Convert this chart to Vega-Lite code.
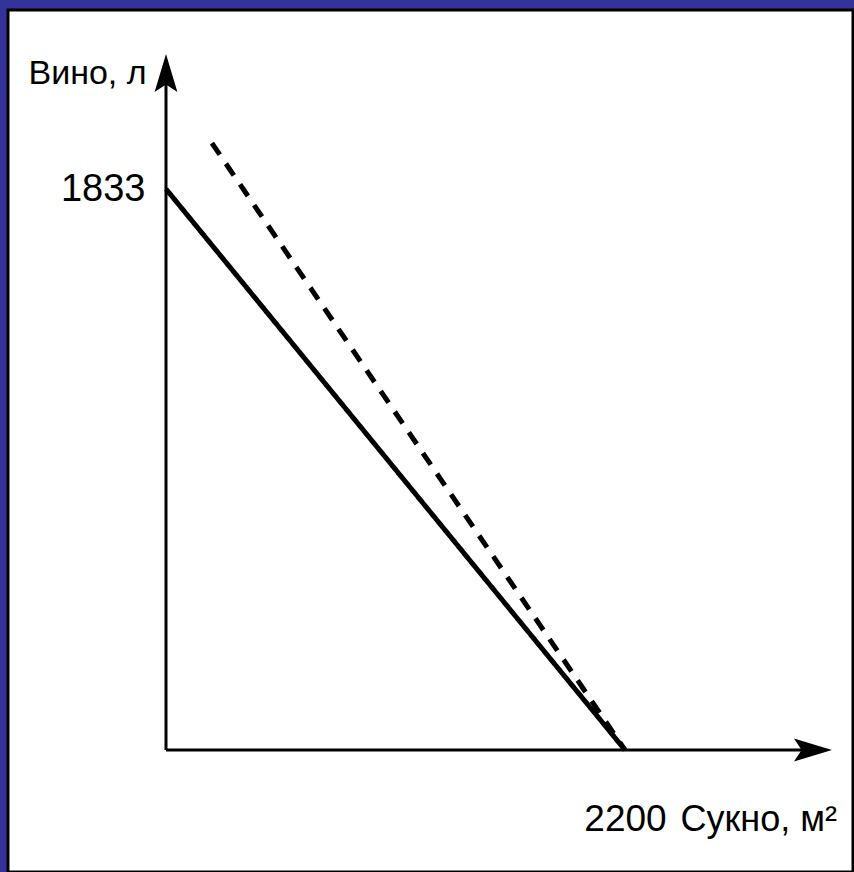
{
  "$schema": "https://vega.github.io/schema/vega-lite/v6.json",
  "width": 845,
  "height": 862,
  "padding": {"left": 8, "top": 10, "right": 1, "bottom": 0},
  "autosize": {"type": "none"},
  "background": "#333399",
  "view": {"fill": "white", "stroke": "black", "strokeWidth": 3},
  "datasets": {
    "curves": [
      {"series": "solid", "cloth": 0, "wine": 1833},
      {"series": "solid", "cloth": 2200, "wine": 0},
      {"series": "dashed", "cloth": 220, "wine": 1983},
      {"series": "dashed", "cloth": 2200, "wine": 0}
    ],
    "axes": [
      {"name": "y", "x": 0, "y": 0, "x2": 0, "y2": 2212},
      {"name": "x", "x": 0, "y": 0, "x2": 3101, "y2": 0}
    ],
    "arrows": [
      {"dir": "up", "x": 0, "y": 2212},
      {"dir": "right", "x": 3101, "y": 0}
    ]
  },
  "layer": [
    {
      "data": {"name": "axes"},
      "mark": {"type": "rule", "color": "black", "strokeWidth": 3},
      "encoding": {
        "x": {
          "field": "x",
          "type": "quantitative",
          "scale": {"domain": [-757.3, 3292.8], "nice": false, "zero": false},
          "axis": {
            "orient": "bottom",
            "offset": -122,
            "values": [2200],
            "format": "d",
            "domain": false,
            "ticks": false,
            "tickSize": 0,
            "grid": false,
            "labelFont": "Liberation Sans",
            "labelFontSize": 37,
            "labelColor": "black",
            "labelPadding": 80,
            "labelBaseline": "alphabetic",
            "title": "Сукно, м²",
            "titleFont": "Liberation Sans",
            "titleFontSize": 36,
            "titleFontWeight": "normal",
            "titleColor": "black",
            "titleAlign": "left",
            "titleBaseline": "alphabetic",
            "titleAngle": 0,
            "titleX": 672,
            "titleY": 80
          }
        },
        "y": {
          "field": "y",
          "type": "quantitative",
          "scale": {"domain": [-398.6, 2417.9], "nice": false, "zero": false},
          "axis": {
            "orient": "left",
            "offset": -158,
            "values": [1833],
            "format": "d",
            "domain": false,
            "ticks": false,
            "tickSize": 0,
            "grid": false,
            "labelFont": "Liberation Sans",
            "labelFontSize": 38,
            "labelColor": "black",
            "labelPadding": 21,
            "title": "Вино, л",
            "titleFont": "Liberation Sans",
            "titleFontSize": 34,
            "titleFontWeight": "normal",
            "titleColor": "black",
            "titleAlign": "left",
            "titleBaseline": "alphabetic",
            "titleAngle": 0,
            "titleX": -138,
            "titleY": 73
          }
        },
        "x2": {"field": "x2"},
        "y2": {"field": "y2"}
      }
    },
    {
      "data": {"name": "arrows"},
      "mark": {"type": "point", "filled": true, "color": "black", "opacity": 1, "size": 1444},
      "encoding": {
        "x": {"field": "x", "type": "quantitative"},
        "y": {"field": "y", "type": "quantitative"},
        "shape": {
          "field": "dir",
          "type": "nominal",
          "scale": {"domain": ["up", "right"], "range": ["M0,-1L0.6,1L0,0.6L-0.6,1Z", "M1,0L-1,-0.6L-0.6,0L-1,0.6Z"]},
          "legend": null
        }
      }
    },
    {
      "data": {"name": "curves"},
      "mark": {"type": "line", "color": "black", "strokeWidth": 5, "strokeCap": "butt"},
      "encoding": {
        "x": {"field": "cloth", "type": "quantitative"},
        "y": {"field": "wine", "type": "quantitative"},
        "detail": {"field": "series"},
        "strokeDash": {
          "field": "series",
          "type": "nominal",
          "scale": {"domain": ["solid", "dashed"], "range": [[1, 0], [14, 11]]},
          "legend": null
        }
      }
    }
  ]
}
